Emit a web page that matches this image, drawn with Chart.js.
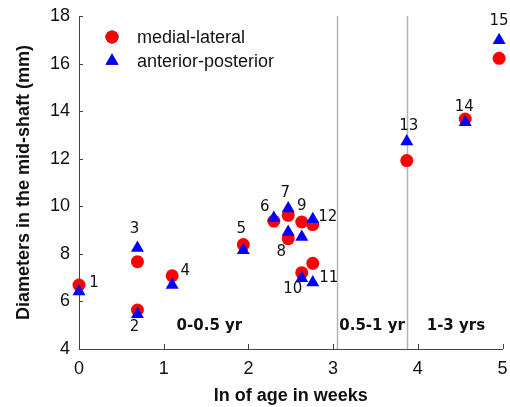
<!DOCTYPE html>
<html>
<head>
<meta charset="utf-8">
<script src="https://cdn.jsdelivr.net/npm/chart.js@4"></script>
<style>
  html, body { margin: 0; padding: 0; background: #fff; }
  #wrap { width: 510px; height: 407px; }
</style>
</head>
<body>
<div id="wrap"><canvas id="c" width="510" height="407"></canvas></div>
<script>
/* mid-shaft diameters vs ln(age in weeks), two measurement directions */
const AGE      = [0, 0.69, 0.69, 1.10, 1.94, 2.30, 2.47, 2.47, 2.63, 2.63, 2.76, 2.76, 3.87, 4.56, 4.96];
const MEDIAL   = [6.69, 5.64, 7.67, 7.08, 8.39, 9.38, 9.62, 8.64, 9.34, 7.21, 7.60, 9.23, 11.92, 13.67, 16.22];
const ANTPOST  = [6.42, 5.46, 8.25, 6.69, 8.15, 9.51, 9.91, 8.92, 8.71, 6.97, 6.80, 9.45, 12.72, 13.53, 16.98];
const PT_NAMES = ["1","2","3","4","5","6","7","8","9","10","11","12","13","14","15"];
const STAGE_AT = [3.05, 3.87];                       // boundaries drawn as grey verticals
const STAGE_TXT = ["0-0.5 yr", "0.5-1 yr", "1-3 yrs"];
const STAGE_X   = [1.54, 3.46, 4.45];
const STAGE_Y   = 4.98;

// label nudges, px relative to the medial-lateral point
const LBL_OFF = [[15,-2],[-3,17],[-3,-33],[13,-5],[-2,-15],[-9,-14],[-3,-22],[-7,13],
                 [0,-16],[-9,16],[16,15],[15,-7],[2,-35],[-1,-12],[0,-37]];

const RED = "#ff0000", BLUE = "#0000ff", AXIS = "#444", INK = "#111";
const SANS = "'Liberation Sans', Arial, sans-serif";
const DJV = "'DejaVu Sans', sans-serif";

const pts = ys => AGE.map((x, i) => ({ x, y: ys[i] }));

const overlay = {
  id: "overlay",
  beforeDatasetsDraw(chart) {
    const { ctx, chartArea: a, scales: { x } } = chart;
    ctx.save();
    ctx.strokeStyle = "#b4b4b4"; ctx.lineWidth = 1.5;
    STAGE_AT.forEach(v => {
      const px = Math.round(x.getPixelForValue(v)) + 0.5;
      ctx.beginPath(); ctx.moveTo(px, a.top); ctx.lineTo(px, a.bottom); ctx.stroke();
    });
    ctx.restore();
  },
  afterDatasetsDraw(chart) {
    const { ctx, chartArea: a, scales: { x, y } } = chart;
    ctx.save();
    // inward tick marks
    ctx.strokeStyle = AXIS; ctx.lineWidth = 1;
    x.ticks.forEach(t => {
      const px = Math.round(x.getPixelForValue(t.value)) + 0.5;
      ctx.beginPath(); ctx.moveTo(px, a.bottom); ctx.lineTo(px, a.bottom - 5); ctx.stroke();
    });
    y.ticks.forEach(t => {
      const py = Math.round(y.getPixelForValue(t.value)) + 0.5;
      ctx.beginPath(); ctx.moveTo(a.left, py); ctx.lineTo(a.left + 4, py); ctx.stroke();
    });
    // point numbers
    ctx.fillStyle = INK; ctx.textAlign = "center"; ctx.textBaseline = "middle";
    ctx.font = "15px " + DJV;
    PT_NAMES.forEach((n, i) => {
      const px = x.getPixelForValue(AGE[i]), py = y.getPixelForValue(MEDIAL[i]);
      ctx.fillText(n, px + LBL_OFF[i][0], py + LBL_OFF[i][1]);
    });
    // stage captions
    ctx.font = "bold 15px " + DJV;
    STAGE_TXT.forEach((s, i) => ctx.fillText(s, x.getPixelForValue(STAGE_X[i]), y.getPixelForValue(STAGE_Y)));
    // legend
    ctx.font = "18px " + SANS; ctx.textAlign = "left";
    chart.data.datasets.slice().sort((p, q) => p.legendRank - q.legendRank).forEach((d, i) => {
      const cy = a.top + 21 + i * 24, cx = a.left + 33;
      Chart.helpers.drawPoint(ctx, { pointStyle: d.pointStyle, radius: d.pointRadius, borderWidth: 0 }, cx, cy);
      ctx.fillStyle = d.backgroundColor; ctx.fill();
      ctx.fillStyle = INK;
      ctx.fillText(d.label, cx + 25, cy + 1);
    });
    ctx.restore();
  },
};

new Chart(document.getElementById("c"), {
  type: "scatter",
  data: {
    datasets: [
      { label: "medial-lateral", legendRank: 0, order: 1, data: pts(MEDIAL), clip: false,
        pointStyle: "circle", pointRadius: 6.5, backgroundColor: RED, borderWidth: 0 },
      { label: "anterior-posterior", legendRank: 1, order: 0, data: pts(ANTPOST), clip: false,
        pointStyle: "triangle", pointRadius: 7.5, backgroundColor: BLUE, borderWidth: 0 },
    ],
  },
  options: {
    responsive: false, devicePixelRatio: 1, animation: false,
    layout: { padding: { top: 16, right: 6, left: 0, bottom: 0 } },
    plugins: { legend: { display: false }, tooltip: { enabled: false } },
    elements: { point: { hoverRadius: 7 } },
    scales: {
      x: {
        type: "linear", min: 0, max: 5,
        afterFit(s) { s.height = 58; s.paddingLeft = 0; s.paddingRight = 0; },
        ticks: { stepSize: 1, color: INK, padding: 9, maxRotation: 0, minRotation: 0,
                 font: { family: SANS, size: 18 } },
        grid: { drawOnChartArea: false, drawTicks: false },
        border: { color: AXIS, width: 1 },
        title: { display: true, text: "ln of age in weeks", color: INK,
                 font: { family: SANS, size: 18, weight: "bold" }, padding: { top: 0, bottom: 0 } },
      },
      y: {
        type: "linear", min: 4, max: 18,
        afterFit(s) { s.width = 79; s.paddingTop = 0; s.paddingBottom = 0; },
        ticks: { stepSize: 2, color: INK, padding: 9, font: { family: SANS, size: 18 } },
        grid: { drawOnChartArea: false, drawTicks: false },
        border: { color: AXIS, width: 1 },
        title: { display: true, text: "Diameters in the mid-shaft (mm)", color: INK,
                 font: { family: SANS, size: 18, weight: "bold" }, padding: { top: 13, bottom: 0 } },
      },
    },
  },
  plugins: [overlay],
});
</script>
</body>
</html>
